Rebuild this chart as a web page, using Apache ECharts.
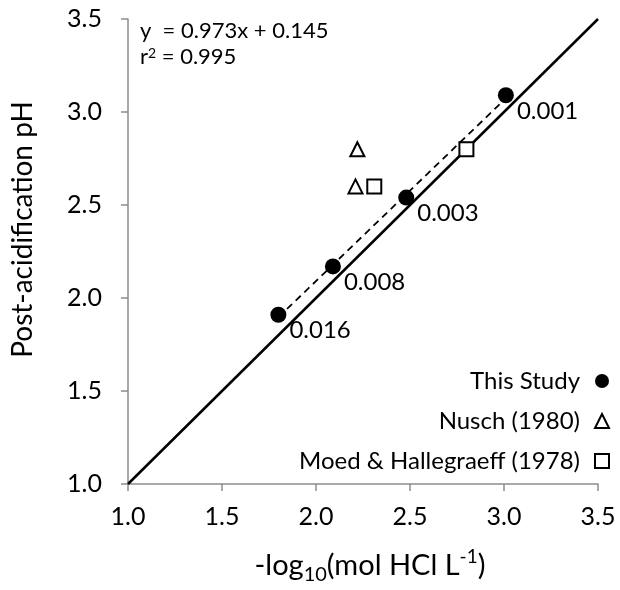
<!DOCTYPE html>
<html><head><meta charset="utf-8">
<script src="https://cdn.jsdelivr.net/npm/echarts@6/dist/echarts.min.js"></script>
<style>html,body{margin:0;padding:0;background:#fff}#c{width:620px;height:590px}</style>
</head><body><div id="c"></div>
<script>
var studyX = [1.80, 2.09, 2.48, 3.01];
var studyY = [1.91, 2.17, 2.54, 3.09];
var studyLabels = ['0.016', '0.008', '0.003', '0.001'];
var nuschX = [2.22, 2.21];
var nuschY = [2.80, 2.60];
var moedX = [2.31, 2.80];
var moedY = [2.60, 2.80];
var oneToOneX = [1.0, 3.5];
var slope = 0.973, intercept = 0.145;
var fitX = [1.80, 3.01];
var ticks = ['1.0','1.5','2.0','2.5','3.0','3.5'];

var FONT = 'Lato';
var chart = echarts.init(document.getElementById('c'), null, {renderer:'canvas'});
function pairs(xs, ys){ return xs.map(function(x,i){ return [x, ys[i]]; }); }
var axisCommon = {
  type:'value', min:1, max:3.5, interval:0.5,
  axisLine:{show:true, lineStyle:{color:'#8c8c8c', width:1.5}},
  axisTick:{show:true, inside:false, length:7, lineStyle:{color:'#8c8c8c', width:1.5}},
  splitLine:{show:false},
  axisLabel:{fontFamily:FONT, fontSize:25, color:'#000', formatter:function(v){return v.toFixed(1);}}
};
chart.setOption({
  animation:false,
  grid:{left:128, right:22, top:19, bottom:103, containLabel:false},
  xAxis: Object.assign({}, axisCommon, {
    axisLabel:Object.assign({}, axisCommon.axisLabel, {margin:20}),
    name:'-log{sub|10}(mol HCl L{sup|-1})', nameLocation:'middle', nameGap:63,
    nameTextStyle:{fontFamily:FONT, fontSize:29, color:'#000', padding:[0,0,0,14],
      rich:{sub:{fontFamily:FONT, fontSize:20, color:'#000', verticalAlign:'bottom', padding:[18,0,0,0]},
            sup:{fontFamily:FONT, fontSize:19, color:'#000', verticalAlign:'top', padding:[0,0,14,0]}}}
  }),
  yAxis: Object.assign({}, axisCommon, {
    axisLabel:Object.assign({}, axisCommon.axisLabel, {margin:26}),
    name:'Post-acidification pH', nameLocation:'middle', nameGap:91,
    nameTextStyle:{fontFamily:FONT, fontSize:28, color:'#000', padding:[0,0,0,44]}
  }),
  legend:{
    orient:'vertical', right:5, top:364, align:'right', itemGap:16,
    itemWidth:14, itemHeight:14,
    textStyle:{fontFamily:FONT, fontSize:24, color:'#000', padding:[0,10,0,0]},
    data:['This Study','Nusch (1980)','Moed & Hallegraeff (1978)']
  },
  graphic:[
    {type:'text', left:140, top:20, style:{text:'y  = 0.973x + 0.145', fontFamily:FONT, fontSize:22, fill:'#000'}},
    {type:'text', left:140, top:46, style:{text:'r{sup|2} = 0.995', fontFamily:FONT, fontSize:22, fill:'#000',
      rich:{sup:{fontSize:14, verticalAlign:'top', padding:[0,0,8,0], fontFamily:FONT, fill:'#000'}}}}
  ],
  series:[
    {type:'line', data:oneToOneX.map(function(x){return [x,x];}), symbol:'none',
     lineStyle:{color:'#000', width:2.5}, silent:true, z:1},
    {type:'line', data:fitX.map(function(x){return [x, slope*x+intercept];}), symbol:'none',
     lineStyle:{color:'#000', width:1.8, type:[7,5]}, silent:true, z:1},
    {name:'This Study', type:'scatter', data:pairs(studyX, studyY), symbol:'circle', symbolSize:16,
     itemStyle:{color:'#000', opacity:1}, z:3,
     label:{show:true, position:'right', align:'left', verticalAlign:'top', offset:[-2,4],
       formatter:function(p){return studyLabels[p.dataIndex];}, fontFamily:FONT, fontSize:24, color:'#000'}},
    {name:'Nusch (1980)', type:'scatter', data:pairs(nuschX, nuschY), symbol:'triangle', symbolSize:14,
     itemStyle:{color:'#fff', borderColor:'#000', borderWidth:2, opacity:1}, z:3},
    {name:'Moed & Hallegraeff (1978)', type:'scatter', data:pairs(moedX, moedY), symbol:'rect', symbolSize:14,
     itemStyle:{color:'#fff', borderColor:'#000', borderWidth:2, opacity:1}, z:3}
  ]
});
</script></body></html>
